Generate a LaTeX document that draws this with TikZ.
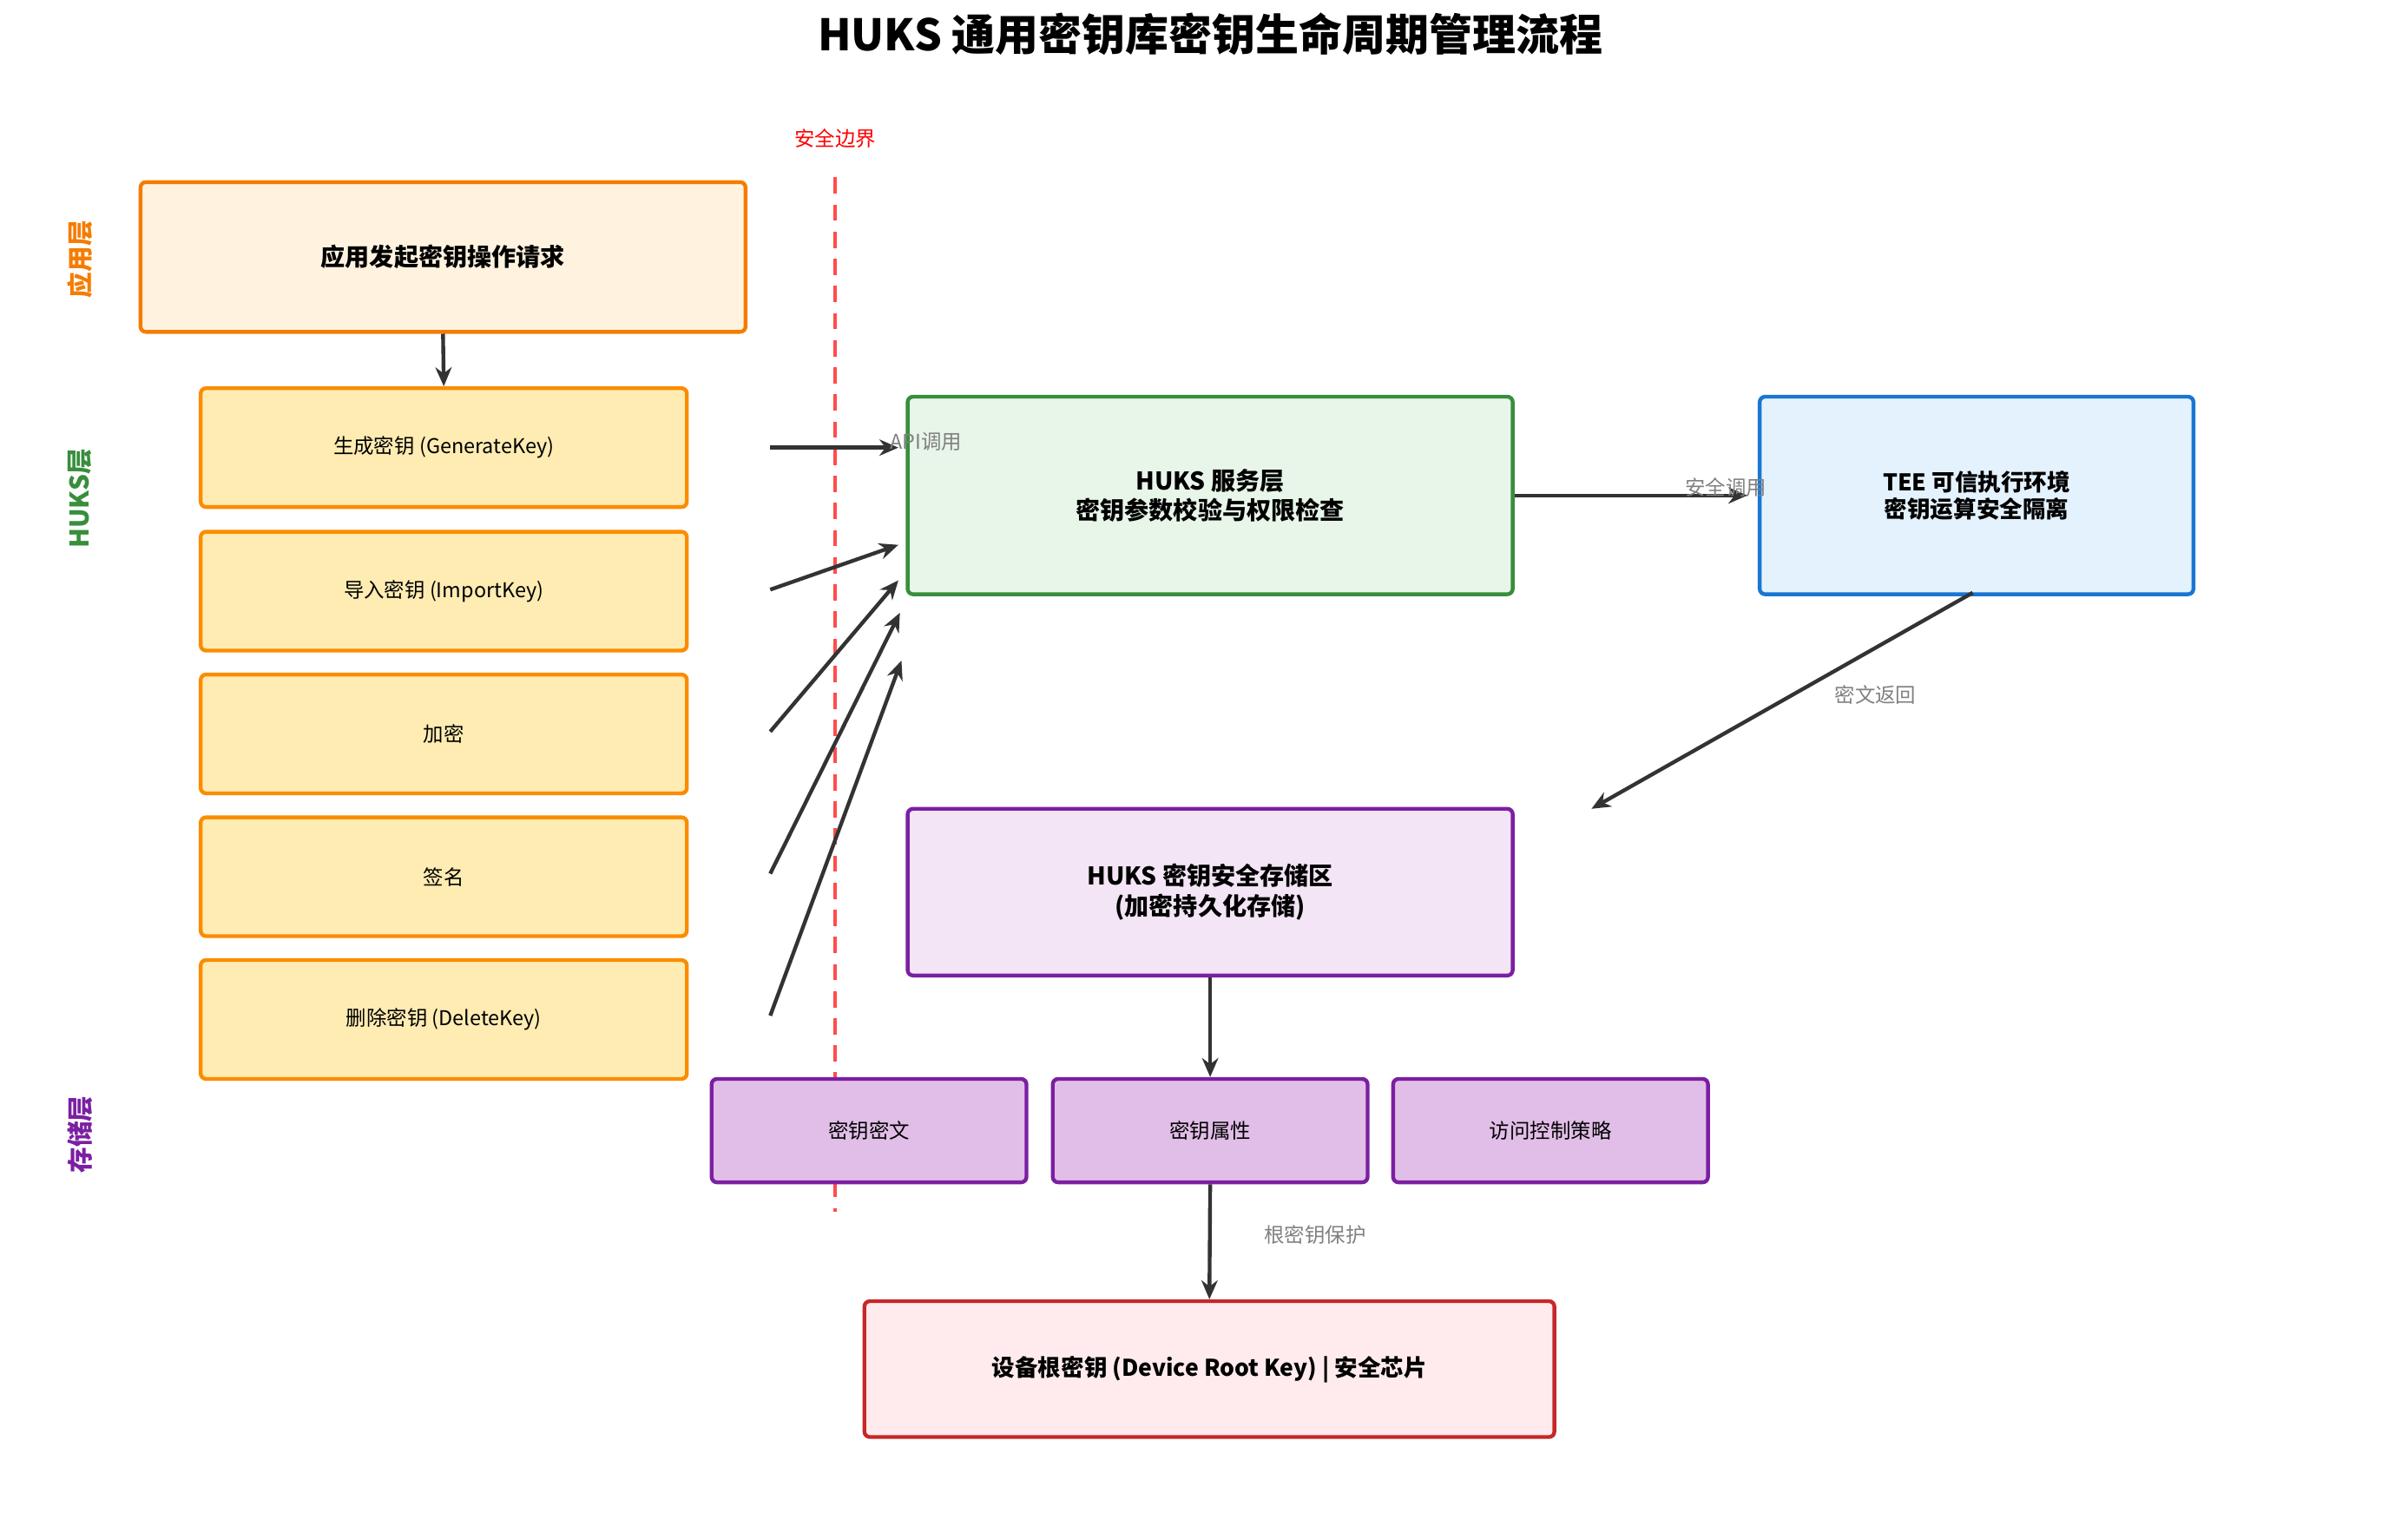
\documentclass[tikz,border=0pt]{standalone}
\usepackage{fontspec}
\setmainfont{Noto Sans CJK SC}
\usetikzlibrary{arrows.meta}
\definecolor{ao}{HTML}{F57C00}\definecolor{af}{HTML}{FFF3E0}
\definecolor{oo}{HTML}{FB8C00}\definecolor{of}{HTML}{FFECB3}
\definecolor{go}{HTML}{388E3C}\definecolor{gf}{HTML}{E8F5E9}
\definecolor{bo}{HTML}{1976D2}\definecolor{bf}{HTML}{E3F2FD}
\definecolor{po}{HTML}{7B1FA2}\definecolor{pf}{HTML}{F3E5F5}\definecolor{ps}{HTML}{E1BEE7}
\definecolor{ro}{HTML}{C62828}\definecolor{rf}{HTML}{FFEBEE}
\definecolor{ar}{HTML}{333333}
\tikzset{
 bx/.style={draw,line width=1.4pt,rounded corners=2pt,align=center,inner sep=0pt},
 arr/.style={draw=ar,line width=1.4pt,-{Stealth[length=7pt,width=6pt]}},
 lbl/.style={text=gray,font=\fontsize{7.5}{9}\selectfont},
 lay/.style={rotate=90,font=\fontsize{9.5}{11}\selectfont\bfseries},
}
\newcommand{\bxat}[6]{\node[bx,draw=#4,fill=#5,minimum width={(#2)*0.02cm},minimum height={(#3)*0.02cm}] (#1) at (#6) {};}
\begin{document}
\begin{tikzpicture}[x=0.02cm,y=-0.02cm]
\useasboundingbox (0,0) rectangle (1560,997);
\node[font=\fontsize{16}{18}\selectfont\bfseries] (title) at (784,22) {HUKS 通用密钥库密钥生命周期管理流程};
\node[text=red,font=\fontsize{7.5}{9}\selectfont] (sb) at (541,90) {安全边界};
\coordinate (d1) at (541,115); \coordinate (d2) at (541,785);
\draw[red!70,dashed,line width=1.2pt,dash pattern=on 6pt off 4pt] (d1) -- (d2);
\node[lay,text=ao] (l1) at (52,168) {应用层};
\node[lay,text=go] (l2) at (52,323) {HUKS层};
\node[lay,text=po] (l3) at (52,735) {存储层};
\node[bx,draw=ao,fill=af,minimum width=392*0.02cm,minimum height=97*0.02cm,font=\fontsize{9}{11}\selectfont\bfseries] (app) at (287,166.5) {应用发起密钥操作请求};
\foreach \n/\y/\t in {o1/290/生成密钥 (GenerateKey),o2/383/导入密钥 (ImportKey),o3/475.5/加密/解密 (Encrypt/Decrypt),o4/568/签名/验签 (Sign/Verify),o5/660.5/删除密钥 (DeleteKey)}
 \node[bx,draw=oo,fill=of,minimum width=315*0.02cm,minimum height=77*0.02cm,font=\fontsize{7.5}{9}\selectfont] (\n) at (287.5,\y) {\t};
\node[bx,draw=go,fill=gf,minimum width=392*0.02cm,minimum height=128*0.02cm,font=\fontsize{9}{11}\selectfont\bfseries] (svc) at (784,321) {HUKS 服务层\\密钥参数校验与权限检查};
\node[bx,draw=bo,fill=bf,minimum width=281*0.02cm,minimum height=128*0.02cm,font=\fontsize{8.5}{10}\selectfont\bfseries] (tee) at (1280.5,321) {TEE 可信执行环境\\密钥运算安全隔离};
\node[bx,draw=po,fill=pf,minimum width=392*0.02cm,minimum height=108*0.02cm,font=\fontsize{9}{11}\selectfont\bfseries] (st) at (784,578) {HUKS 密钥安全存储区\\(加密持久化存储)};
\foreach \n/\x/\t in {s1/563/密钥密文,s2/784/密钥属性,s3/1004.5/访问控制策略}
 \node[bx,draw=po,fill=ps,minimum width=204*0.02cm,minimum height=67*0.02cm,font=\fontsize{7.5}{9}\selectfont] (\n) at (\x,732.5) {\t};
\node[bx,draw=ro,fill=rf,minimum width=447*0.02cm,minimum height=88*0.02cm,font=\fontsize{8.5}{10}\selectfont\bfseries] (root) at (783.5,887) {设备根密钥 (Device Root Key) | 安全芯片};
% arrows
\draw[arr] (app.south) -- (o1.north);
\coordinate (a1) at (499,290); \coordinate (b1) at (582,290);
\coordinate (a2) at (499,382); \coordinate (b2) at (582,353);
\coordinate (a3) at (499,474); \coordinate (b3) at (582,376);
\coordinate (a4) at (499,566); \coordinate (b4) at (583,397);
\coordinate (a5) at (499,658); \coordinate (b5) at (584,428);
\foreach \i in {1,...,5} \draw[arr] (a\i) -- (b\i);
\node[lbl] (api) at (600,286) {API调用};
\coordinate (t1) at (1132,321);
\draw[arr] (svc.east) -- (t1);
\node[lbl] (aq) at (1118,316) {安全调用};
\coordinate (r0) at (1278,384); \coordinate (r1) at (1031,524);
\draw[arr] (r0) -- (r1);
\node[lbl] (mw) at (1215,450) {密文返回};
\draw[arr] (st.south) -- (s2.north);
\draw[arr] (s2.south) -- (root.north);
\node[lbl] (gm) at (852,800) {根密钥保护};
\end{tikzpicture}
\end{document}
